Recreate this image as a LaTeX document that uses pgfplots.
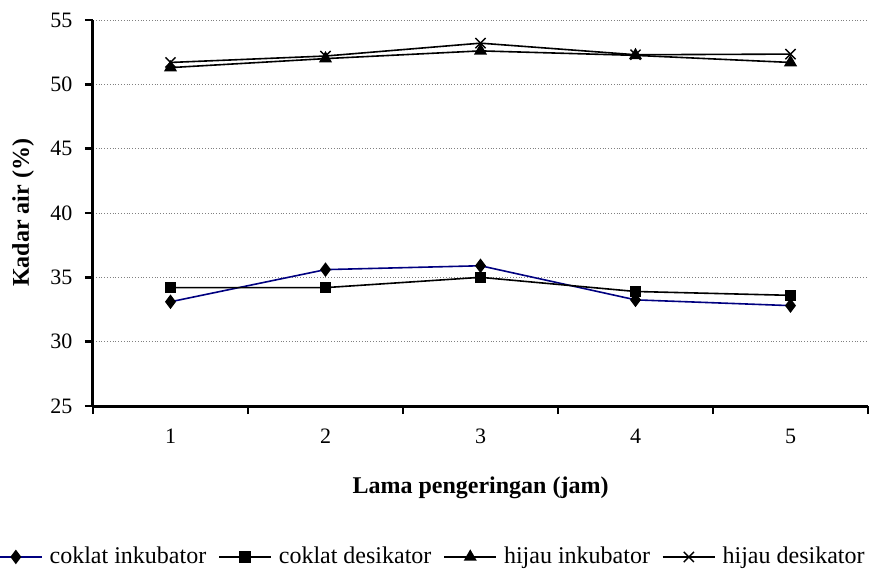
\documentclass[border=0pt]{standalone}
\usepackage{pgfplots}
\pgfplotsset{compat=1.18}
\usepackage{fontspec}
\setmainfont{Liberation Serif}
\definecolor{navyline}{RGB}{0,0,128}
\begin{document}
\begin{tikzpicture}
\path[use as bounding box] (0,0) rectangle (436pt,284pt);
\begin{axis}[
  at={(46.5pt,81pt)}, anchor=south west,
  scale only axis, width=387.5pt, height=193pt,
  xmin=0.5, xmax=5.5, ymin=25, ymax=55,
  axis x line=bottom, axis y line=left,
  axis line style={line width=1.5pt, -},
  xtick={0.5,1.5,2.5,3.5,4.5,5.5}, xticklabels={},
  extra x ticks={1,2,3,4,5}, extra x tick labels={1,2,3,4,5},
  extra x tick style={major tick length=0pt, grid=none},
  ytick={25,30,...,55},
  ymajorgrids, grid style={densely dotted, gray, line width=0.4pt},
  xtick style={black, line width=1.4pt},
  ytick style={black, line width=1.4pt},
  major tick length=4pt, tick align=outside,
  /pgf/number format/assume math mode=true,
  tick label style={font=\fontsize{11}{13}\selectfont},
  xticklabel style={yshift=-8pt},
  yticklabel style={xshift=-2.8pt},
  xlabel={\textbf{Lama pengeringan (jam)}},
  ylabel={\textbf{Kadar air (\%)}},
  label style={font=\fontsize{12}{14}\selectfont},
  x label style={at={(axis description cs:0.5,-0.2124)}, anchor=center},
  y label style={at={(axis description cs:-0.0903,0.5)}, anchor=center},
  legend columns=4,
  legend style={at={(axis description cs:1.0013,-0.391)}, anchor=east, draw=none,
    inner xsep=0pt, inner ysep=0pt,
    font=\fontsize{12}{14}\selectfont,
    /tikz/every odd column/.append style={column sep=1.5pt},
    /tikz/every even column/.append style={column sep=4pt}},
  legend cell align=left,
  legend image code/.code={\draw[#1] (0pt,0pt) -- (26pt,0pt); \draw[#1,mark repeat=2,mark phase=2] plot coordinates {(0pt,0pt) (13pt,0pt) (26pt,0pt)};},
]
\addplot[navyline, line width=0.8pt, mark=diamond*, mark size=3pt, mark options={fill=black, draw=black, solid}]
  coordinates {(1,33.1) (2,35.6) (3,35.9) (4,33.25) (5,32.8)};
\addlegendentry{coklat inkubator}
\addplot[black, line width=0.8pt, mark=square*, mark size=2.4pt, mark options={solid}]
  coordinates {(1,34.2) (2,34.2) (3,35.0) (4,33.9) (5,33.6)};
\addlegendentry{coklat desikator}
\addplot[black, line width=0.8pt, mark=triangle*, mark size=3pt, mark options={solid}]
  coordinates {(1,51.3) (2,52.0) (3,52.6) (4,52.25) (5,51.7)};
\addlegendentry{hijau inkubator}
\addplot[black, line width=0.8pt, mark=x, mark size=3.6pt, mark options={solid, line width=0.7pt}]
  coordinates {(1,51.7) (2,52.2) (3,53.2) (4,52.3) (5,52.35)};
\addlegendentry{hijau desikator}
\end{axis}
\end{tikzpicture}
\end{document}
